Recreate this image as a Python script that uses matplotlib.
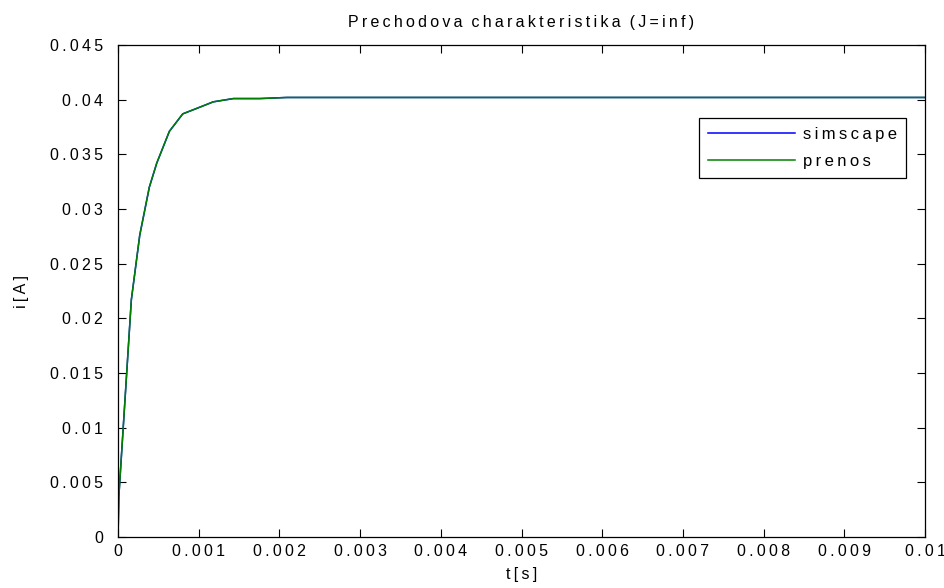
import matplotlib
matplotlib.use('Agg')
import matplotlib.pyplot as plt

# odozva prudu na skok napatia
t = [0, 0.00001, 0.000165, 0.000269, 0.000388, 0.00048, 0.000636, 0.000802,
     0.000975, 0.00118, 0.00143, 0.00176, 0.00209, 0.0025, 0.003, 0.004,
     0.005, 0.006, 0.007, 0.008, 0.009, 0.01]
i_simscape = [0, 0.0037, 0.0217, 0.0276, 0.0320, 0.0342, 0.0371, 0.0387,
              0.0392, 0.0398, 0.0401, 0.0401, 0.0402, 0.0402, 0.0402, 0.0402,
              0.0402, 0.0402, 0.0402, 0.0402, 0.0402, 0.0402]
i_prenos = [0, 0.0037, 0.0217, 0.0276, 0.0320, 0.0342, 0.0371, 0.0387,
            0.0392, 0.0398, 0.0401, 0.0401, 0.0402, 0.0402, 0.0402, 0.0402,
            0.0402, 0.0402, 0.0402, 0.0402, 0.0402, 0.0402]

xticks = [0, 0.001, 0.002, 0.003, 0.004, 0.005, 0.006, 0.007, 0.008, 0.009, 0.01]
xlabels = ['0', '0.001', '0.002', '0.003', '0.004', '0.005', '0.006', '0.007',
           '0.008', '0.009', '0.01']
yticks = [0, 0.005, 0.01, 0.015, 0.02, 0.025, 0.03, 0.035, 0.04, 0.045]
ylabels = ['0', '0.005', '0.01', '0.015', '0.02', '0.025', '0.03', '0.035',
           '0.04', '0.045']

THIN = '\u2009'


def spaced(s, sep=THIN):
    # roztiahnute pismo ako v exporte z matlabu
    return '  '.join(sep.join(w) for w in s.split(' '))


plt.rcParams['font.family'] = ['Liberation Sans', 'DejaVu Sans']
fs = 11.5

fig = plt.figure(figsize=(9.45, 5.88), dpi=100)
ax = fig.add_axes([0.1249, 0.0867, 0.854, 0.8368])

ax.plot(t, i_simscape, color=(0, 0, 1), linewidth=1.1, label=spaced('simscape'))
ax.plot(t, i_prenos, color=(0, 0.5, 0), linewidth=1.1, label=spaced('prenos'))

ax.set_xlim(0, 0.01)
ax.set_ylim(0, 0.045)
ax.set_xticks(xticks)
ax.set_xticklabels([spaced(s) for s in xlabels], fontsize=fs)
ax.set_yticks(yticks)
ax.set_yticklabels([spaced(s) for s in ylabels], fontsize=fs)
ax.tick_params(direction='in', length=6, width=0.8, top=True, right=True, pad=11)
ax.tick_params(axis='x', pad=5)
for sp in ax.spines.values():
    sp.set_linewidth(0.9)

ax.set_title(spaced('Prechodova charakteristika (J=inf)'), fontsize=fs, pad=13)
ax.set_xlabel(spaced('t[s]'), fontsize=fs, labelpad=6)
ax.set_ylabel(spaced('i[A]'), fontsize=fs, labelpad=15)

leg = ax.legend(loc='upper right', bbox_to_anchor=(0.977, 0.8516), fontsize=12,
                fancybox=False, framealpha=1, edgecolor='black',
                handlelength=5.2, handletextpad=0.5, borderpad=0.55,
                labelspacing=0.7, borderaxespad=0)
leg.get_frame().set_linewidth(0.9)

fig.savefig('out.png', dpi=100)
